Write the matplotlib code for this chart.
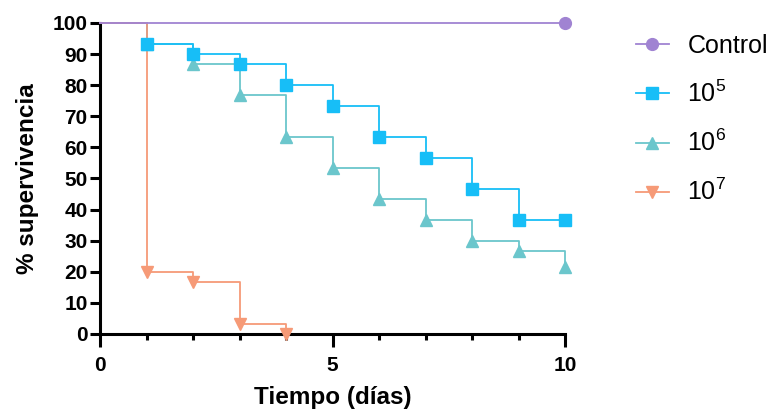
import matplotlib
matplotlib.use("Agg")
import matplotlib.pyplot as plt
from matplotlib.lines import Line2D

plt.rcParams['font.family'] = ['Liberation Sans', 'DejaVu Sans']
plt.rcParams['mathtext.fontset'] = 'custom'
plt.rcParams['mathtext.rm'] = 'Liberation Sans'
plt.rcParams['mathtext.it'] = 'Liberation Sans'

# survival data (day, % survival)
days = [0, 1, 2, 3, 4, 5, 6, 7, 8, 9, 10]
control = [100, 100, 100, 100, 100, 100, 100, 100, 100, 100, 100]
dose_1e5 = [100, 93.3, 90, 86.7, 80, 73.3, 63.3, 56.7, 46.7, 36.7, 36.7]
dose_1e6 = [100, 93.3, 86.7, 76.7, 63.3, 53.3, 43.3, 36.7, 30, 26.7, 21.7]
days_1e7 = [0, 1, 2, 3, 4]
dose_1e7 = [100, 20, 16.7, 3.3, 0]

labels = ["Control", "$10^5$", "$10^6$", "$10^7$"]
colors = ["#A083D2", "#17BEF7", "#6BC6CC", "#F69A77"]
markers = ["o", "s", "^", "v"]

fig = plt.figure(figsize=(7.7, 4.15), dpi=100)
ax = fig.add_axes([0.1299, 0.1952, 0.6039, 0.7494])

lw = 1.3
ms = 8.5
series = [(days, dose_1e6, 2), (days, dose_1e5, 1), (days_1e7, dose_1e7, 3)]
for x, y, i in series:
    ax.step(x, y, where='post', color=colors[i], lw=lw, clip_on=False, zorder=3)
    ax.plot(x[1:], y[1:], ls='none', marker=markers[i], color=colors[i], ms=ms, clip_on=False, zorder=4)

# control: flat line, only end marker
ax.step(days, control, where='post', color=colors[0], lw=lw, clip_on=False, zorder=5)
ax.plot(days[-1:], control[-1:], ls='none', marker=markers[0], color=colors[0], ms=ms, clip_on=False, zorder=6)

ax.set_xlim(0, 10)
ax.set_ylim(0, 100)
ax.set_yticks(range(0, 101, 10))
ax.set_xticks([0, 5, 10])
ax.set_xticks(range(0, 11), minor=True)
for s in ['top', 'right']:
    ax.spines[s].set_visible(False)
for s in ['left', 'bottom']:
    ax.spines[s].set_linewidth(2.2)
ax.tick_params(axis='both', which='major', width=2.2, length=7, labelsize=15, pad=2)
ax.tick_params(axis='x', which='major', length=9, pad=7)
ax.tick_params(axis='x', which='minor', width=2.2, length=4.5)
for t in ax.get_xticklabels() + ax.get_yticklabels():
    t.set_fontweight('bold')
ax.set_xlabel("Tiempo (días)", fontsize=17.5, fontweight='bold', labelpad=8)
ax.set_ylabel("% supervivencia", fontsize=17.5, fontweight='bold', labelpad=10)

handles = [Line2D([], [], color=c, marker=m, ms=ms, lw=lw) for c, m in zip(colors, markers)]
fig.legend(handles, labels, loc='upper left', bbox_to_anchor=(0.826, 0.918),
           frameon=False, fontsize=18, borderpad=0, borderaxespad=0,
           handlelength=1.3, labelspacing=0.91, handletextpad=0.75)

fig.savefig("out.png", dpi=100)
